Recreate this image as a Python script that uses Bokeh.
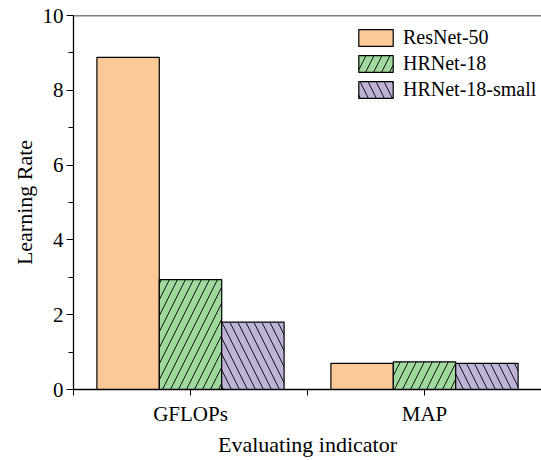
from bokeh.plotting import figure
from bokeh.models import ColumnDataSource, FixedTicker, Span, Legend, LegendItem
from bokeh.embed import file_html
from bokeh.resources import INLINE

categories = ["GFLOPs", "MAP"]
series_names = ["ResNet-50", "HRNet-18", "HRNet-18-small"]
resnet50 = [8.88, 0.70]
hrnet18 = [2.94, 0.74]
hrnet18_small = [1.80, 0.70]
y_ticks = [0, 2, 4, 6, 8, 10]

colors = ["#FBC998", "#A1D89D", "#BEB2D6"]
hatches = [None, "right_diagonal_line", "left_diagonal_line"]

FONT = "Liberation Serif"

p = figure(width=541, height=460, output_backend="svg", toolbar_location=None,
           x_range=(0.5, 2.5), y_range=(0, 10),
           min_border_left=73, min_border_right=0, min_border_top=15, min_border_bottom=71)
p.grid.visible = False
p.outline_line_color = None
p.background_fill_color = "white"
p.border_fill_color = "white"

xpos = [i + 1 for i in range(len(categories))]
bw = 0.8 / 3
offsets = [-bw, 0, bw]
series = [resnet50, hrnet18, hrnet18_small]
renderers = []
for name, vals, col, hat, off in zip(series_names, series, colors, hatches, offsets):
    src = ColumnDataSource(dict(x=[x + off for x in xpos], top=vals))
    kw = dict(x="x", top="top", width=bw, bottom=0, source=src,
              fill_color=col, line_color="black", line_width=1.2)
    if hat:
        kw.update(hatch_pattern=hat, hatch_color="black", hatch_weight=0.9, hatch_scale=16)
    r = p.vbar(**kw)
    renderers.append(r)

# axes styling
p.xaxis.ticker = FixedTicker(ticks=[0.5, 1, 1.5, 2, 2.5], minor_ticks=[])
p.xaxis.major_label_overrides = {0.5: "", 1: categories[0], 1.5: "", 2: categories[1], 2.5: ""}
p.xaxis.major_tick_in = 0
p.xaxis.major_tick_out = 6
p.xaxis.axis_label = "Evaluating indicator"
p.yaxis.ticker = FixedTicker(ticks=y_ticks, minor_ticks=[1, 3, 5, 7, 9])
p.yaxis.major_tick_in = 0
p.yaxis.major_tick_out = 7
p.yaxis.minor_tick_in = 0
p.yaxis.minor_tick_out = 5
p.yaxis.axis_label = "Learning Rate"

for ax in [p.xaxis[0], p.yaxis[0]]:
    ax.axis_line_color = "black"
    ax.axis_line_width = 1.3
    ax.major_tick_line_color = "black"
    ax.major_label_text_font = FONT
    ax.major_label_text_font_size = "21px"
    ax.major_label_text_color = "black"
    ax.axis_label_text_font = FONT
    ax.axis_label_text_font_style = "normal"
    ax.axis_label_text_font_size = "22px"
    ax.axis_label_text_color = "black"
p.xaxis.minor_tick_line_color = None
p.yaxis.minor_tick_line_color = "black"

p.xaxis.major_label_standoff = 6
p.xaxis.axis_label_standoff = 3
p.yaxis.major_label_standoff = 3
p.yaxis.axis_label_standoff = 3

top_line = Span(location=10, dimension="width", line_color="black", line_width=1.3)
p.add_layout(top_line)

legend = Legend(items=[LegendItem(label=n, renderers=[r]) for n, r in zip(series_names, renderers)],
                location=(281, 288), orientation="vertical")
legend.glyph_width = 43
legend.glyph_height = 21
legend.label_height = 21
legend.spacing = 3
legend.label_standoff = 6
legend.padding = 0
legend.margin = 0
legend.border_line_color = None
legend.background_fill_alpha = 0
legend.label_text_font = FONT
legend.label_text_font_size = "20px"
legend.label_text_color = "black"
p.add_layout(legend, "center")

open("out.html", "w").write(file_html(p, INLINE))
